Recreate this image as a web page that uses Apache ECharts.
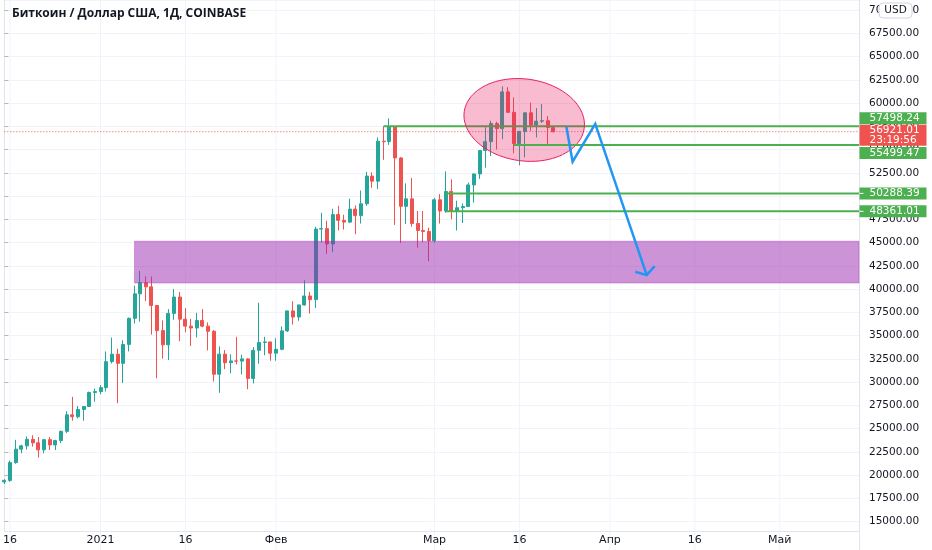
<!DOCTYPE html>
<html><head><meta charset="utf-8">
<script src="https://cdn.jsdelivr.net/npm/echarts@6/dist/echarts.min.js"></script>
<style>html,body{margin:0;padding:0;background:#fff}#c{width:932px;height:550px}</style>
</head><body><div id="c"></div>
<script>
// ---- data ----
const startDate = '2020-12-15';
const dayCount = 152; // Dec 15 2020 .. May 15 2021
// daily candles from Dec 15 2020 to Mar 22 2021
const opens = [19275,19440,21350,22800,23150,23850,23480,22720,23820,23250,23720,24710,26490,26280,27060,27380,28880,
  28990,29410,32200,33000,32020,34050,36860,39490,40670,40240,38240,35540,34010,37390,39150,36770,36020,35820,36630,36020,35470,30850,33010,32090,32280,32260,32500,30400,33420,34270,34320,
  33110,33530,35510,37660,37000,38300,39260,38870,46450,46500,44850,48010,47390,47200,48600,47900,49170,52150,51600,55900,55850,57450,54100,48900,49700,47050,46300,46190,
  45200,49600,48400,50500,48400,48750,48880,51200,52380,54900,55850,57800,57250,61200,59000,55650,56950,58950,57650,58050,58100,57380];
const closes = [19440,21350,22800,23150,23850,23480,22720,23820,23250,23720,24710,26490,26280,27060,27380,28880,28990,
  29410,32200,33000,32020,34050,36860,39490,40670,40240,38240,35540,34010,37390,39150,36770,36020,35820,36630,36020,35470,30850,33010,32090,32280,32260,32500,30400,33420,34270,34320,33110,
  33530,35510,37660,37000,38300,39260,38870,46450,46500,44850,48010,47390,47200,48600,47900,49170,52150,51600,55900,55850,57450,54100,48900,49700,47050,46300,46190,45200,
  49600,48400,50500,48400,48750,48880,51200,52380,54900,55850,57800,57250,61200,59000,55650,56950,58950,57650,58050,58100,57380,56921.01];
const lows = [19050,19290,21230,22350,22750,23070,21900,22350,22700,22700,23450,24520,25850,26100,25850,27330,27900,
  28690,29000,32000,27730,29900,33300,36300,36500,38720,35110,30420,32530,32380,36700,34400,35360,33900,34800,35900,33400,30070,28850,31400,30950,31910,30830,29240,29860,31990,32900,32300,
  32300,33420,35390,36200,36600,38220,37370,37980,45000,43800,43970,46300,46400,47100,45900,47050,48950,50900,50750,53900,55500,46900,44950,47000,46700,44450,45050,43000,
  45000,47050,48200,47500,46300,47100,48880,49300,51850,53050,54300,55000,56100,58950,54600,53300,54150,57000,56300,57850,55500,56850];
const highs = [19570,21560,23800,23280,24170,24295,24100,23830,24100,23800,24790,26870,28420,27440,27400,28990,29300,
  29680,33300,34790,33600,34500,36940,40370,41950,41380,41350,38260,36630,37850,40000,39700,37950,36800,37450,37850,36420,35600,33850,33450,32990,34880,32950,32560,33780,38540,34880,34330,
  34720,35990,37670,38700,38320,40960,39700,46700,48200,47350,48640,48950,48000,49720,49000,50600,52600,52550,56300,57500,58350,57500,54200,51370,51950,48400,48400,46600,
  49800,50200,52650,51800,49500,49200,51450,52400,54900,57400,58100,58000,61800,61700,60600,56950,58950,60050,59450,59900,58600,57500];
// x-axis tick labels
const tickLabels = {'2020-12-16':'16','2021-01-01':'2021','2021-01-16':'16','2021-02-01':'Фев',
  '2021-03-01':'Мар','2021-03-16':'16','2021-04-01':'Апр','2021-04-16':'16','2021-05-01':'Май'};
// price scale
const yMin = 14000, yMax = 71075, yStep = 2500;
// drawings
const zoneStart = '2021-01-07', zoneLow = 40650, zoneHigh = 45150;
const levelPrices = [57498.24, 55499.47, 50288.39, 48361.01];
const levelStarts = ['2021-02-20', '2021-03-15', '2021-03-03', '2021-03-03'];
const lastPrice = 56921.01, countdown = '23:19:56';
const ellipseCenterDate = '2021-03-16', ellipseCenterOffset = 0.85, ellipseCenterPrice = 58180;
const ellipseRadiusDays = 10.7, ellipseRadiusPrice = 4400, ellipseTiltDeg = 8;
const pathDays = [99.3, 100.4, 104.4, 113.5];
const pathPrices = [57450, 53700, 57750, 41500];
const title = 'Биткоин / Доллар США, 1Д, COINBASE';

// ---- styling ----
const labelShifts = [-8, 8, 0, 0];
const FONT = 'DejaVu Sans';
const UP = '#26a69a', DOWN = '#ef5350', GREEN = '#4caf50', BLUE = '#2196f3';

// ---- build ----
const dates = [];
{
  const t0 = Date.parse(startDate + 'T00:00:00Z');
  for (let i = 0; i < dayCount; i++) dates.push(new Date(t0 + i * 86400000).toISOString().slice(0, 10));
}
const idx = d => dates.indexOf(d);
const lastIdx = dayCount - 1;
const candleData = opens.map((o, i) => [i, o, closes[i], lows[i], highs[i]]);
const tickIdx = Object.keys(tickLabels).map(idx);
const labelAt = v => { const d = dates[Math.round(v)]; return tickLabels[d] || ''; };

const chart = echarts.init(document.getElementById('c'));

const levelSeries = levelPrices.map((p, i) => ({
  type: 'line', silent: true, symbol: 'none',
  data: [[idx(levelStarts[i]), p], [lastIdx, p]],
  lineStyle: {color: GREEN, width: 2}, z: i === 1 ? 6 : 3
}));

const option = {
  animation: false,
  backgroundColor: '#ffffff',
  title: {text: title, left: 7, top: 3,
    textStyle: {fontFamily: 'Open Sans', fontWeight: 'bold', fontSize: 12, color: '#131722'}},
  grid: {left: 0, right: 73, top: 0, bottom: 19},
  xAxis: {
    type: 'value', min: 0, max: lastIdx,
    axisLine: {show: true, onZero: false, lineStyle: {color: '#e0e3eb'}},
    axisTick: {show: false, customValues: tickIdx},
    axisLabel: {customValues: tickIdx, formatter: labelAt, color: '#131722',
      fontSize: 11, fontFamily: FONT, margin: 4, showMinLabel: true, showMaxLabel: true},
    splitLine: {show: false}
  },
  yAxis: {
    type: 'value', position: 'right', min: yMin, max: yMax, minInterval: yStep, maxInterval: yStep,
    axisLine: {show: true, lineStyle: {color: '#e0e3eb'}},
    axisTick: {show: true, length: 4, lineStyle: {color: '#b2b5be'}},
    axisLabel: {showMinLabel: false, showMaxLabel: false, formatter: v => v.toFixed(2),
      color: '#131722', fontSize: 10.5, fontFamily: FONT, margin: 10},
    splitLine: {show: true, lineStyle: {color: '#f0f3fa'}}
  },
  graphic: [
    {type: 'line', shape: {x1: 859.5, y1: 0, x2: 859.5, y2: 550}, style: {stroke: '#e0e3eb', lineWidth: 1}, z: 1},
    {type: 'rect', z: 100, shape: {x: 879, y: 3, width: 33, height: 15, r: 4}, style: {fill: '#ffffff', stroke: '#d1d4dc', lineWidth: 1}},
    {type: 'text', z: 101, style: {x: 895.5, y: 10.5, text: 'USD', fill: '#131722', font: '10.5px "DejaVu Sans"', textAlign: 'center', textVerticalAlign: 'middle', verticalAlign: 'middle'}}
  ],
  series: [
    { // vertical grid lines at the labelled dates
      type: 'custom', silent: true, z: 0,
      data: tickIdx.map(i => [i]),
      encode: {x: 0},
      renderItem: (params, api) => {
        const top = api.coord([api.value(0), yMax]);
        const bot = api.coord([api.value(0), yMin]);
        return {type: 'line', shape: {x1: top[0], y1: top[1], x2: bot[0], y2: bot[1] + 25},
          style: {stroke: '#f0f3fa', lineWidth: 1}};
      }
    },
    { // last price dotted line
      type: 'line', silent: true, symbol: 'none', z: 1,
      data: [[0, lastPrice], [lastIdx, lastPrice]],
      lineStyle: {color: DOWN, width: 1, type: [1, 2]}
    },
    {
      type: 'candlestick', data: candleData, barWidth: 3.5, z: 2,
      encode: {x: 0, y: [1, 2, 3, 4]},
      itemStyle: {color: UP, color0: DOWN, borderColor: UP, borderColor0: DOWN, borderWidth: 1}
    },
    ...levelSeries,
    { // purple zone
      type: 'custom', silent: true, z: 4,
      data: [[idx(zoneStart), zoneHigh, lastIdx, zoneLow]],
      encode: {x: [0, 2], y: [1, 3]},
      renderItem: (params, api) => {
        const a = api.coord([api.value(0), api.value(1)]);
        const b = api.coord([api.value(2), api.value(3)]);
        return {type: 'rect', shape: {x: a[0], y: a[1], width: b[0] - a[0], height: b[1] - a[1]},
          style: {fill: 'rgba(156,39,176,0.5)', stroke: 'rgba(156,39,176,0.35)', lineWidth: 1}};
      }
    },
    { // pink ellipse
      type: 'custom', silent: true, z: 5,
      data: [[idx(ellipseCenterDate) + ellipseCenterOffset, ellipseCenterPrice]],
      encode: {x: 0, y: 1},
      renderItem: (params, api) => {
        const c = api.coord([api.value(0), api.value(1)]);
        const s = api.size([ellipseRadiusDays, ellipseRadiusPrice]);
        const th = ellipseTiltDeg * Math.PI / 180;
        const pts = [];
        for (let k = 0; k < 96; k++) {
          const t = k / 96 * Math.PI * 2;
          const ex = s[0] * Math.cos(t), ey = s[1] * Math.sin(t);
          pts.push([c[0] + ex * Math.cos(th) - ey * Math.sin(th), c[1] + ex * Math.sin(th) + ey * Math.cos(th)]);
        }
        return {type: 'polygon', shape: {points: pts},
          style: {fill: 'rgba(233,30,99,0.3)', stroke: '#e91e63', lineWidth: 1}};
      }
    },
    { // blue projected path with arrow head
      type: 'custom', silent: true, z: 7,
      data: [[pathDays[0], pathPrices[0]]],
      encode: {x: 0, y: 1},
      renderItem: (params, api) => {
        const pts = pathDays.map((d, i) => api.coord([d, pathPrices[i]]));
        const tip = pts[pts.length - 1], prev = pts[pts.length - 2];
        const dx = prev[0] - tip[0], dy = prev[1] - tip[1];
        const L = Math.hypot(dx, dy), ux = dx / L, uy = dy / L;
        const wing = (ang, len) => {
          const a = ang * Math.PI / 180;
          return [tip[0] + len * (ux * Math.cos(a) - uy * Math.sin(a)), tip[1] + len * (ux * Math.sin(a) + uy * Math.cos(a))];
        };
        return {type: 'group', children: [
          {type: 'polyline', shape: {points: pts}, style: {stroke: BLUE, lineWidth: 2.5, fill: null, lineJoin: 'miter'}},
          {type: 'polyline', shape: {points: [wing(-55, 12), tip, wing(60, 12)]}, style: {stroke: BLUE, lineWidth: 2.5, fill: null}}
        ]};
      }
    },
    { // price scale labels
      type: 'custom', silent: true, z: 20, clip: false,
      data: levelPrices.map((p, i) => [lastIdx, p, i]).concat([[lastIdx, lastPrice, -1]]),
      encode: {x: 0, y: 1},
      renderItem: (params, api) => {
        const k = api.value(2);
        const c = api.coord([api.value(0), api.value(1)]);
        const x0 = c[0] + 0.5;
        if (k < 0) {
          const y = c[1];
          return {type: 'group', children: [
            {type: 'rect', shape: {x: x0, y: y - 7, width: 67, height: 21}, style: {fill: DOWN}},
            {type: 'text', style: {x: x0 + 10, y: y - 1, text: lastPrice.toFixed(2), fill: '#ffffff', font: '10.5px "DejaVu Sans"', textVerticalAlign: 'middle', verticalAlign: 'middle'}},
            {type: 'text', style: {x: x0 + 10, y: y + 9, text: countdown, fill: '#ffffff', font: '10.5px "DejaVu Sans"', textVerticalAlign: 'middle', verticalAlign: 'middle'}}
          ]};
        }
        const y = c[1] + labelShifts[k];
        return {type: 'group', children: [
          {type: 'rect', shape: {x: x0, y: y - 6, width: 67, height: 12}, style: {fill: GREEN}},
          {type: 'line', shape: {x1: x0, y1: c[1], x2: x0 + 4, y2: c[1]}, style: {stroke: '#ffffff', lineWidth: 1}},
          {type: 'text', style: {x: x0 + 10, y: y, text: api.value(1).toFixed(2), fill: '#ffffff', font: '10.5px "DejaVu Sans"', textVerticalAlign: 'middle', verticalAlign: 'middle'}}
        ]};
      }
    }
  ]
};
chart.setOption(option);
</script></body></html>
